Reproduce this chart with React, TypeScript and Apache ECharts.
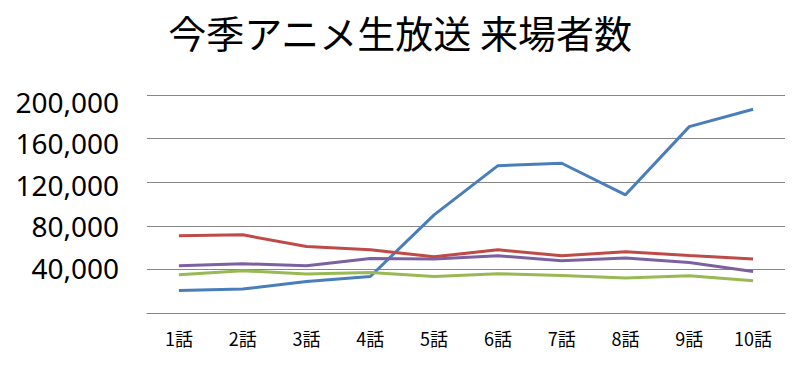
import React, { useEffect, useRef } from "react";
import * as echarts from "echarts";

const title = "今季アニメ生放送 来場者数";
const categories = ["1話", "2話", "3話", "4話", "5話", "6話", "7話", "8話", "9話", "10話"];
const blueValues = [20700, 22000, 29000, 33500, 90000, 135200, 137400, 108400, 171000, 186900];
const redValues = [70800, 71700, 61000, 58000, 51500, 58000, 52500, 56200, 52800, 49500];
const greenValues = [35100, 38800, 35700, 37200, 33500, 36000, 34500, 32100, 34200, 29600];
const purpleValues = [43300, 45200, 43300, 50000, 49500, 52500, 47900, 50400, 46400, 38100];
const yMin = 0;
const yMax = 200000;
const yInterval = 40000;

export default function App() {
  const ref = useRef<HTMLDivElement>(null);
  useEffect(() => {
    document.body.style.margin = "0";
    if (!ref.current) return;
    const chart = echarts.init(ref.current, null, { renderer: "svg" });
    const mk = (name: string, data: number[], color: string) => ({
      name,
      type: "line",
      data,
      symbol: "none",
      lineStyle: { color, width: 3 },
      itemStyle: { color },
    });
    chart.setOption({
      animation: false,
      backgroundColor: "#ffffff",
      title: {
        text: title,
        left: "center",
        top: 7,
        textStyle: {
          fontFamily: "Noto Sans CJK JP",
          fontSize: 38,
          fontWeight: "normal",
          color: "#000000",
        },
      },
      grid: [
        { left: 147, right: 15, top: 95, bottom: 52, containLabel: false },
        { left: 147, right: 15, top: 101.7, bottom: 56, containLabel: false },
      ],
      xAxis: [
        {
          type: "category",
          gridIndex: 0,
          data: categories,
          boundaryGap: true,
          axisLine: { show: true, lineStyle: { color: "#868686", width: 1 } },
          axisTick: { show: false },
          axisLabel: {
            color: "#000000",
            fontFamily: "Noto Sans CJK JP",
            fontSize: 18,
            margin: 16,
          },
        },
        {
          type: "category",
          gridIndex: 1,
          data: categories,
          show: false,
        },
      ],
      yAxis: [
        {
          type: "value",
          gridIndex: 0,
          min: yMin,
          max: yMax,
          interval: yInterval,
          axisLine: { show: false },
          axisTick: { show: false },
          splitLine: { show: true, lineStyle: { color: "#868686", width: 1 } },
          axisLabel: { show: false },
        },
        {
          type: "value",
          gridIndex: 1,
          min: yMin,
          max: yMax,
          interval: yInterval,
          axisLine: { show: false },
          axisTick: { show: false },
          splitLine: { show: false },
          axisLabel: {
            color: "#000000",
            fontFamily: "Noto Sans",
            fontSize: 28,
            margin: 28,
            formatter: (v: number) => (v === 0 ? "" : v.toLocaleString("en-US")),
          },
        },
      ],
      series: [
        mk("A", blueValues, "#4A7EBB"),
        mk("B", redValues, "#BE4B48"),
        mk("C", greenValues, "#98B954"),
        mk("D", purpleValues, "#7D60A0"),
      ],
    });
    return () => chart.dispose();
  }, []);
  return <div ref={ref} style={{ width: 800, height: 365 }} />;
}
